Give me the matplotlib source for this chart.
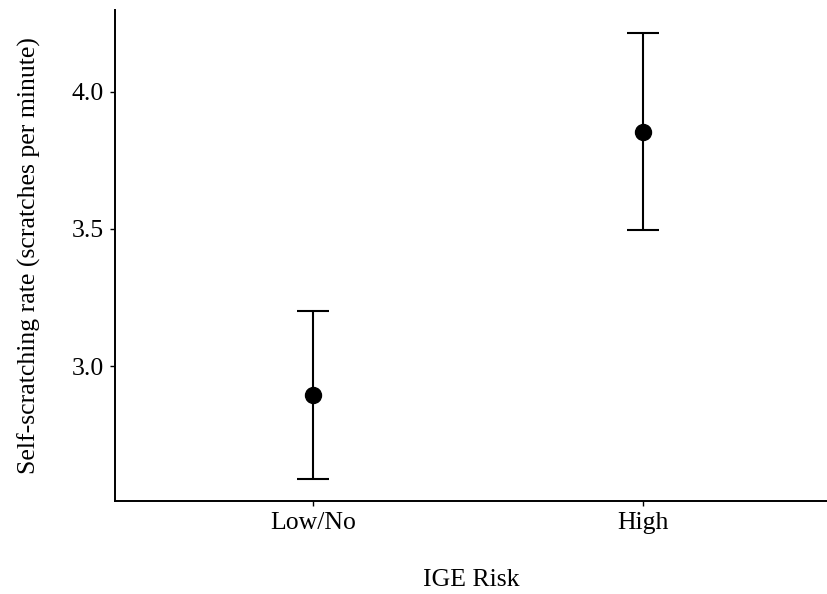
import matplotlib.pyplot as plt
import numpy as np

# group means with 95% CI bounds
groups = ["Low/No", "High"]
means = [2.895, 3.855]
lower = [2.589, 3.495]
upper = [3.200, 4.215]

plt.rcParams['font.family'] = ['Liberation Serif', 'DejaVu Serif']

fig = plt.figure(figsize=(8.28, 5.94), dpi=100)
ax = fig.add_axes([115/828, 1 - 501/594, 713/828, 491/594])

x = np.arange(1, len(groups) + 1)
m = np.array(means)
err = np.vstack([m - np.array(lower), np.array(upper) - m])

ax.errorbar(x, m, yerr=err, fmt="o", color="black", ecolor="black",
            elinewidth=1.5, capsize=11.5, capthick=1.5, markersize=11.5)

ax.set_xlim(0.4, 0.4 + 713/330)
ax.set_ylim(2.508, 4.298)
ax.set_xticks(x)
ax.set_xticklabels(groups)
ax.set_yticks([3.0, 3.5, 4.0])
ax.set_yticklabels(["3.0", "3.5", "4.0"])

for side in ["top", "right"]:
    ax.spines[side].set_visible(False)
for side in ["left", "bottom"]:
    ax.spines[side].set_linewidth(1.4)

ax.tick_params(axis="both", length=3.6, width=1.0, labelsize=18.5, pad=4.5, colors="black")

ax.set_xlabel("IGE Risk", fontsize=18.5, labelpad=25)
ax.set_ylabel("Self-scratching rate (scratches per minute)", fontsize=18.5, labelpad=22)

fig.savefig("out.png", dpi=100)
